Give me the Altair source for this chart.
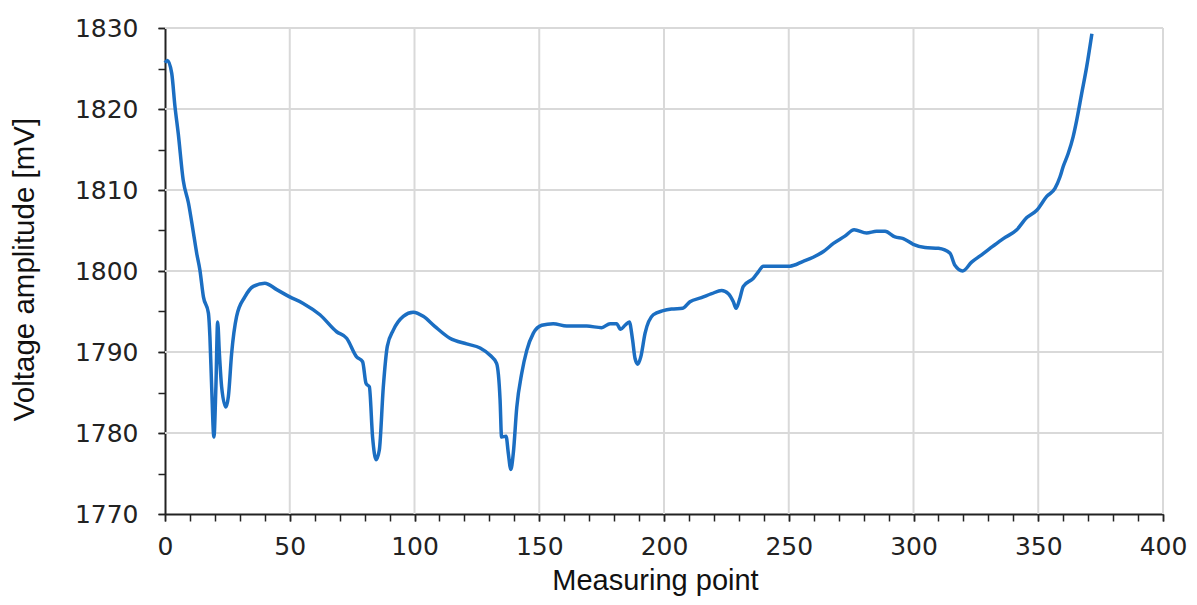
import altair as alt
import pandas as pd

measuring_point = [0, 1, 2.7, 4, 5.3, 7.3, 9.4, 11.4, 12.7, 14,
    15.4, 17.4, 18, 18.7, 19.6, 20.4, 21.1, 21.8, 22.7, 24.4,
    25.4, 26.7, 28.7, 32, 35.4, 40, 44.8, 50, 55.4, 62.1,
    68.8, 72.8, 76.8, 79.2, 80.6, 81.9, 83.2, 84.6, 85.9, 87.5,
    89.1, 91.5, 95.5, 99.5, 103.5, 108, 114.2, 120.9, 126.3, 130.3,
    132.9, 134.3, 134.9, 136.7, 137.6, 138.6, 139.6, 141, 143, 145,
    147.6, 151, 155.6, 161, 169, 175, 178.4, 181, 182.6, 184.4,
    186.1, 187.4, 188.4, 189.5, 190.7, 192.4, 195.7, 199.7, 203, 207.5,
    210.4, 215, 219.1, 223.1, 225.8, 227.8, 228.9, 230.2, 231.8, 235.8,
    237.8, 239.8, 243.8, 250.5, 255.8, 259.8, 263.9, 267.9, 272.5, 276.2,
    281.2, 285.2, 288.6, 292.6, 295.9, 299.9, 304.6, 310, 314.6, 316.6,
    319.7, 323.3, 327.3, 332, 336, 341.4, 345.4, 349.4, 353.4, 356.7,
    358.7, 360, 362, 364, 365.4, 367.4, 369.4, 371.5]

voltage = [1825.7, 1826.0, 1824.4, 1820.3, 1817, 1811.2, 1808.4, 1804.7, 1802.2, 1800.1,
    1796.8, 1794.8, 1791.9, 1785.7, 1779.5, 1785.7, 1793.7, 1789.8, 1785.7, 1783.2,
    1784.5, 1789.8, 1794.4, 1796.8, 1798.1, 1798.5, 1797.7, 1796.8, 1796.0, 1794.6,
    1792.5, 1791.7, 1789.4, 1788.8, 1786.1, 1785.7, 1779.5, 1776.7, 1777.9, 1785.7,
    1790.7, 1792.7, 1794.4, 1794.9, 1794.4, 1793.2, 1791.7, 1791.0, 1790.5, 1789.6,
    1788.6, 1784.1, 1779.5, 1779.6, 1777.5, 1775.5, 1777.5, 1783.2, 1787.4, 1790.2,
    1792.3, 1793.3, 1793.5, 1793.2, 1793.2, 1793.0, 1793.5, 1793.5, 1792.8, 1793.3,
    1793.7, 1791.5, 1789.2, 1788.5, 1789.4, 1792.3, 1794.6, 1795.1, 1795.3, 1795.4,
    1796.2, 1796.7, 1797.2, 1797.6, 1797.2, 1796.2, 1795.4, 1796.4, 1798.1, 1799.1,
    1799.9, 1800.6, 1800.6, 1800.6, 1801.2, 1801.7, 1802.4, 1803.4, 1804.3, 1805.1,
    1804.7, 1804.9, 1804.9, 1804.2, 1804.0, 1803.3, 1802.9, 1802.8, 1802.2, 1800.7,
    1800.0, 1801.1, 1802.0, 1803.1, 1804.0, 1805.1, 1806.6, 1807.5, 1809.2, 1810.2,
    1811.6, 1812.9, 1814.5, 1816.6, 1818.6, 1821.9, 1825.2, 1829.3]

x_major = [0, 50, 100, 150, 200, 250, 300, 350, 400]
y_major = [1770, 1780, 1790, 1800, 1810, 1820, 1830]
x_minor = list(range(0, 401, 10))
y_minor = list(range(1770, 1831, 5))

df = pd.DataFrame({"x": measuring_point, "y": voltage})
xg = pd.DataFrame({"x": x_major[1:]})
yg = pd.DataFrame({"y": y_major[1:]})

W, H = 998, 486
xscale = alt.Scale(domain=[0, 400], nice=False, zero=False)
yscale = alt.Scale(domain=[1770, 1830], nice=False, zero=False)

grid_color = "#d9d9d9"
ink = "#222222"

minor_x_axis = alt.Axis(orient="bottom", values=x_minor, labels=False, domain=False,
                        grid=False, title=None, tickSize=7, tickWidth=1.5, tickColor=ink)
minor_y_axis = alt.Axis(orient="left", values=y_minor, labels=False, domain=False,
                        grid=False, title=None, tickSize=7, tickWidth=1.5, tickColor=ink)

vgrid = alt.Chart(xg).mark_rule(color=grid_color, strokeWidth=2).encode(
    x=alt.X("x:Q", scale=xscale, axis=minor_x_axis))
hgrid = alt.Chart(yg).mark_rule(color=grid_color, strokeWidth=2).encode(
    y=alt.Y("y:Q", scale=yscale, axis=minor_y_axis))

line = alt.Chart(df).mark_line(color="#1b6ec2", strokeWidth=3.5, interpolate="monotone").encode(
    x=alt.X("x:Q", scale=xscale, axis=alt.Axis(
        orient="bottom", title="Measuring point", values=x_major, format="d",
        grid=False, tickSize=7, tickWidth=1.5, tickColor=ink,
        domainColor=ink, domainWidth=2,
        labelFont="DejaVu Sans", labelFontSize=25, labelColor=ink,
        labelPadding=13, labelFlush=False, labelOverlap=False,
        titleFont="Liberation Sans", titleFontSize=29, titleFontWeight="normal",
        titleColor="#111", titleX=490, titleY=75, titleBaseline="alphabetic")),
    y=alt.Y("y:Q", scale=yscale, axis=alt.Axis(
        orient="left", title="Voltage amplitude [mV]", values=y_major, format="d",
        grid=False, tickSize=7, tickWidth=1.5, tickColor=ink,
        domainColor=ink, domainWidth=2,
        labelFont="DejaVu Sans", labelFontSize=25, labelColor=ink,
        labelPadding=20, labelOverlap=False,
        titleFont="Liberation Sans", titleFontSize=29.5, titleFontWeight="normal",
        titleColor="#111", titleX=-132, titleY=241, titleBaseline="alphabetic",
        titleAngle=270)),
)

chart = alt.layer(vgrid, hgrid, line).resolve_axis(
    x="independent", y="independent"
).properties(
    width=W, height=H,
    autosize=alt.AutoSizeParams(type="none"),
    padding={"left": 157, "top": 20, "right": 26, "bottom": 83},
).configure_view(stroke=None).configure(background="white")

chart.save("out.html", embed_options={"renderer": "svg", "actions": False})
